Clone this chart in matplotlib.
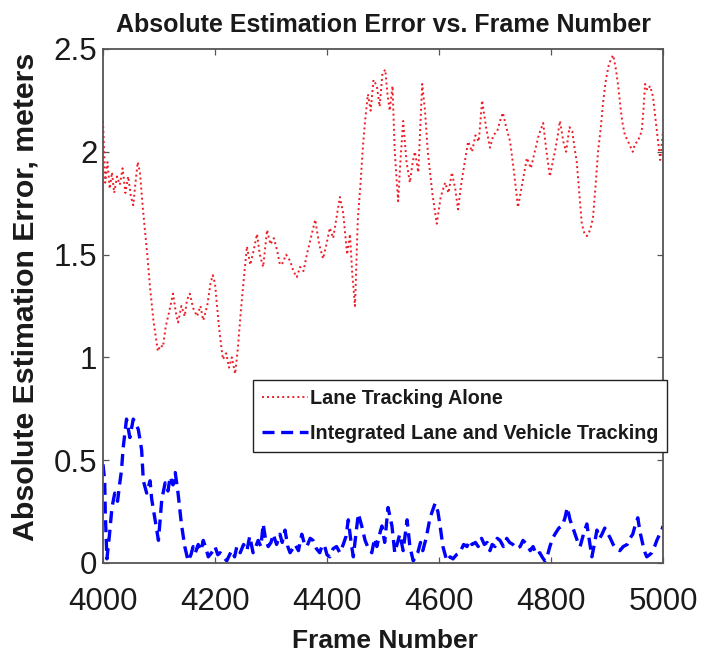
import matplotlib
matplotlib.use("Agg")
import matplotlib.pyplot as plt

# ---------------- data ----------------
lane_frames = [
    4000, 4004, 4008, 4012, 4016, 4020, 4025, 4030, 4035, 4040,
    4045, 4050, 4054, 4058, 4062, 4066, 4071, 4079, 4084, 4090,
    4098, 4103, 4107, 4112, 4118, 4125, 4130, 4134, 4140, 4146,
    4150, 4155, 4161, 4168, 4174, 4179, 4186, 4192, 4196, 4200,
    4207, 4214, 4220, 4225, 4230, 4236, 4241, 4246, 4250, 4257,
    4263, 4269, 4275, 4280, 4286, 4293, 4299, 4305, 4311, 4316,
    4321, 4327, 4334, 4340, 4346, 4352, 4358, 4364, 4371, 4379,
    4386, 4393, 4399, 4405, 4411, 4417, 4423, 4429, 4436, 4441,
    4445, 4450, 4455, 4460, 4464, 4468, 4473, 4478, 4483, 4489,
    4494, 4499, 4504, 4508, 4512, 4517, 4521, 4527, 4531, 4536,
    4542, 4548, 4553, 4557, 4563, 4570, 4575, 4580, 4588, 4596,
    4603, 4611, 4617, 4623, 4629, 4634, 4640, 4646, 4652, 4659,
    4665, 4671, 4677, 4684, 4691, 4697, 4704, 4709, 4714, 4720,
    4727, 4734, 4741, 4749, 4757, 4764, 4771, 4778, 4786, 4792,
    4798, 4803, 4807, 4812, 4816, 4822, 4827, 4833, 4838, 4842,
    4846, 4851, 4855, 4860, 4864, 4870, 4875, 4880, 4884, 4889,
    4893, 4898, 4903, 4907, 4911, 4916, 4920, 4924, 4927, 4932,
    4936, 4941, 4946, 4950, 4955, 4959, 4962, 4965, 4968, 4972,
    4977, 4982, 4987, 4991, 4995, 5000,
]
lane_error = [
    2.15, 1.85, 1.95, 1.82, 1.90, 1.80, 1.88, 1.84, 1.92, 1.80,
    1.88, 1.78, 1.74, 1.85, 1.95, 1.90, 1.73, 1.50, 1.34, 1.18,
    1.03, 1.06, 1.05, 1.15, 1.22, 1.31, 1.22, 1.17, 1.25, 1.20,
    1.28, 1.31, 1.24, 1.20, 1.25, 1.18, 1.25, 1.36, 1.40, 1.36,
    1.15, 0.99, 1.02, 0.95, 1.00, 0.92, 1.05, 1.22, 1.34, 1.54,
    1.45, 1.52, 1.60, 1.50, 1.44, 1.62, 1.55, 1.58, 1.52, 1.45,
    1.46, 1.50, 1.47, 1.42, 1.39, 1.44, 1.42, 1.50, 1.58, 1.67,
    1.55, 1.48, 1.55, 1.63, 1.58, 1.68, 1.78, 1.70, 1.50, 1.60,
    1.41, 1.25, 1.67, 1.85, 2.02, 2.15, 2.28, 2.20, 2.35, 2.32,
    2.22, 2.38, 2.40, 2.28, 2.20, 2.32, 2.00, 1.76, 1.95, 2.15,
    1.95, 1.85, 1.95, 2.00, 1.90, 2.33, 2.20, 2.00, 1.80, 1.65,
    1.78, 1.85, 1.80, 1.90, 1.82, 1.72, 1.85, 1.95, 2.05, 2.00,
    2.08, 2.05, 2.25, 2.12, 2.02, 2.08, 2.10, 2.15, 2.19, 2.12,
    2.05, 1.90, 1.73, 1.85, 1.97, 1.92, 2.00, 2.08, 2.14, 2.00,
    1.88, 1.95, 2.00, 2.08, 2.15, 2.05, 2.00, 2.12, 2.10, 2.02,
    1.95, 1.78, 1.65, 1.60, 1.59, 1.62, 1.68, 1.85, 2.00, 2.12,
    2.24, 2.35, 2.42, 2.45, 2.47, 2.40, 2.32, 2.22, 2.15, 2.08,
    2.06, 2.03, 2.00, 2.04, 2.05, 2.08, 2.10, 2.20, 2.33, 2.30,
    2.32, 2.27, 2.15, 2.05, 1.96, 2.10,
]

integ_frames = [
    4000, 4003, 4004, 4007, 4012, 4016, 4021, 4026, 4030, 4033,
    4036, 4042, 4048, 4054, 4058, 4063, 4069, 4072, 4078, 4084,
    4087, 4093, 4099, 4105, 4111, 4116, 4120, 4125, 4129, 4134,
    4140, 4146, 4152, 4157, 4161, 4165, 4170, 4175, 4179, 4184,
    4188, 4194, 4200, 4205, 4209, 4215, 4221, 4226, 4230, 4235,
    4239, 4245, 4251, 4257, 4262, 4268, 4273, 4277, 4282, 4286,
    4290, 4295, 4300, 4304, 4310, 4316, 4320, 4325, 4330, 4334,
    4339, 4343, 4349, 4355, 4360, 4364, 4370, 4375, 4381, 4387,
    4392, 4396, 4400, 4405, 4411, 4417, 4423, 4429, 4434, 4438,
    4443, 4447, 4452, 4456, 4460, 4462, 4468, 4474, 4480, 4485,
    4489, 4494, 4498, 4503, 4509, 4516, 4521, 4530, 4536, 4543,
    4548, 4554, 4562, 4567, 4571, 4577, 4584, 4593, 4598, 4602,
    4607, 4614, 4620, 4625, 4631, 4637, 4644, 4650, 4655, 4659,
    4665, 4670, 4676, 4681, 4686, 4691, 4695, 4700, 4704, 4709,
    4715, 4721, 4726, 4732, 4738, 4745, 4750, 4757, 4763, 4768,
    4774, 4780, 4784, 4789, 4794, 4798, 4803, 4807, 4814, 4820,
    4825, 4829, 4834, 4838, 4843, 4848, 4852, 4858, 4864, 4869,
    4873, 4878, 4882, 4887, 4891, 4896, 4902, 4906, 4911, 4916,
    4923, 4929, 4936, 4941, 4946, 4950, 4955, 4959, 4964, 4968,
    4971, 4976, 4980, 4985, 4989, 4994, 4998, 5000,
]
integ_error = [
    0.48, 0.40, 0.25, 0.02, 0.15, 0.27, 0.34, 0.30, 0.39, 0.45,
    0.56, 0.70, 0.61, 0.70, 0.68, 0.65, 0.55, 0.40, 0.34, 0.40,
    0.31, 0.21, 0.11, 0.31, 0.39, 0.35, 0.42, 0.38, 0.44, 0.34,
    0.19, 0.08, 0.01, 0.04, 0.08, 0.05, 0.09, 0.06, 0.11, 0.07,
    0.03, 0.05, 0.08, 0.04, 0.05, 0.03, 0.01, 0.04, 0.06, 0.03,
    0.08, 0.05, 0.09, 0.06, 0.13, 0.05, 0.08, 0.11, 0.08, 0.19,
    0.12, 0.08, 0.10, 0.14, 0.09, 0.14, 0.10, 0.16, 0.08, 0.05,
    0.07, 0.09, 0.06, 0.14, 0.09, 0.08, 0.12, 0.11, 0.07, 0.05,
    0.09, 0.08, 0.04, 0.03, 0.07, 0.08, 0.05, 0.09, 0.13, 0.21,
    0.10, 0.03, 0.15, 0.24, 0.20, 0.18, 0.11, 0.07, 0.05, 0.12,
    0.08, 0.14, 0.18, 0.10, 0.27, 0.18, 0.05, 0.14, 0.06, 0.21,
    0.08, 0.01, 0.05, 0.10, 0.06, 0.12, 0.22, 0.29, 0.25, 0.18,
    0.08, 0.01, 0.03, 0.02, 0.04, 0.05, 0.09, 0.08, 0.11, 0.09,
    0.10, 0.08, 0.12, 0.09, 0.10, 0.06, 0.09, 0.08, 0.12, 0.11,
    0.08, 0.12, 0.10, 0.09, 0.07, 0.08, 0.11, 0.09, 0.06, 0.08,
    0.04, 0.05, 0.03, 0.01, 0.04, 0.08, 0.12, 0.14, 0.17, 0.18,
    0.22, 0.27, 0.21, 0.18, 0.14, 0.10, 0.08, 0.14, 0.19, 0.10,
    0.03, 0.10, 0.16, 0.12, 0.14, 0.17, 0.14, 0.12, 0.09, 0.07,
    0.06, 0.08, 0.09, 0.12, 0.14, 0.18, 0.22, 0.15, 0.09, 0.05,
    0.03, 0.04, 0.05, 0.08, 0.11, 0.14, 0.16, 0.18,
]

series_labels = ["Lane Tracking Alone", "Integrated Lane and Vehicle Tracking"]
x_ticks = [4000, 4200, 4400, 4600, 4800, 5000]
y_ticks = [0, 0.5, 1, 1.5, 2, 2.5]
y_tick_labels = ["0", "0.5", "1", "1.5", "2", "2.5"]
title_text = "Absolute Estimation Error vs. Frame Number"
x_label = "Frame Number"
y_label = "Absolute Estimation Error, meters"

# ---------------- plot ----------------
plt.rcParams['font.family'] = ['Liberation Sans', 'DejaVu Sans']
text_color = '#1a1a1a'

fig = plt.figure(figsize=(7.10, 6.56), dpi=100)
ax = fig.add_axes([103 / 710, 1 - 563 / 656, 560 / 710, 514 / 656])

ax.plot(lane_frames, lane_error, color='#ee1c24', lw=1.4,
        linestyle=(0, (1, 1.6)), label=series_labels[0])
ax.plot(integ_frames, integ_error, color='#0000ff', lw=2.4,
        linestyle=(0, (3.6, 2.0)), label=series_labels[1])

ax.set_xlim(4000, 5000)
ax.set_ylim(0, 2.5)
ax.set_xticks(x_ticks)
ax.set_xticklabels([str(t) for t in x_ticks])
ax.set_yticks(y_ticks)
ax.set_yticklabels(y_tick_labels)

ax.tick_params(axis='both', direction='in', length=4.5, width=0.9,
               colors='#555555', labelcolor=text_color, labelsize=22.5,
               top=True, right=True)
ax.tick_params(axis='x', pad=17)
ax.tick_params(axis='y', pad=4)
for sp in ax.spines.values():
    sp.set_color('#555555')
    sp.set_linewidth(1.3)

ax.set_title(title_text, fontsize=18, fontweight='bold', color=text_color, pad=12)
ax.set_xlabel(x_label, fontsize=19, fontweight='bold', color=text_color)
ax.xaxis.set_label_coords(0.503, -0.128)
ax.set_ylabel(y_label, fontsize=21.8, fontweight='bold', color=text_color)
ax.yaxis.set_label_coords(-0.1125, 0.5175)

leg = ax.legend(loc='upper right', bbox_to_anchor=(1.007, 0.356),
                borderaxespad=0, prop={'weight': 'bold', 'size': 14.2},
                handlelength=2.3, handletextpad=0.1, labelspacing=0.8,
                borderpad=0.45, fancybox=False, framealpha=1, edgecolor='#222222')
leg.get_frame().set_linewidth(1.0)
for t in leg.get_texts():
    t.set_color(text_color)

fig.savefig('out.png', dpi=100)
